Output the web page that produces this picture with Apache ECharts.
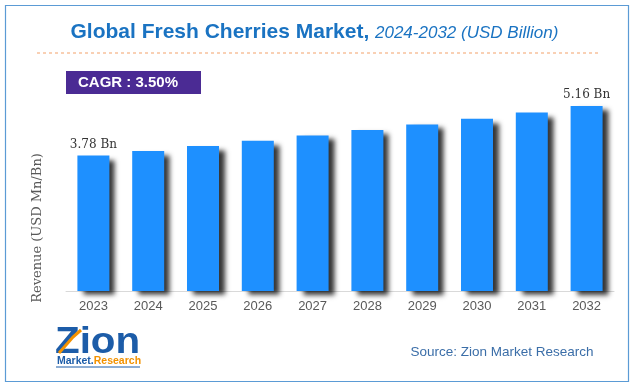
<!DOCTYPE html>
<html>
<head>
<meta charset="utf-8">
<script src="https://cdn.jsdelivr.net/npm/echarts@6/dist/echarts.min.js"></script>
<style>
html,body{margin:0;padding:0;background:#fff;}
#c{width:633px;height:387px;}
</style>
</head>
<body>
<div id="c"></div>
<script>
const years = ['2023','2024','2025','2026','2027','2028','2029','2030','2031','2032'];
const revenue = [3.78, 3.91, 4.05, 4.19, 4.34, 4.49, 4.65, 4.81, 4.98, 5.16];
const labelledIdx = [0, 9];
const titleMain = 'Global Fresh Cherries Market,';
const titleSub = '2024-2032 (USD Billion)';
const cagrText = 'CAGR : 3.50%';
const yName = 'Revenue (USD Mn/Bn)';
const sourceText = 'Source: Zion Market Research';

const chart = echarts.init(document.getElementById('c'), null, {renderer:'canvas'});

const barData = revenue.map((v, i) => ({
  value: v,
  label: { show: labelledIdx.includes(i) }
}));

chart.setOption({
  animation: false,
  backgroundColor: '#ffffff',
  grid: { left: 66, right: 19, top: 76, bottom: 96 },
  xAxis: {
    type: 'category',
    data: years,
    axisLine: { lineStyle: { color: '#d9d9d9', width: 1 } },
    axisTick: { show: false },
    axisLabel: { color: '#595959', fontSize: 13, fontFamily: 'Liberation Sans', margin: 9 }
  },
  yAxis: {
    type: 'value', min: 0, max: 6, interval: 1,
    show: false,
    splitLine: { show: false }
  },
  series: [{
    type: 'bar',
    data: barData,
    barWidth: 32,
    itemStyle: {
      color: '#1e90ff',
      shadowColor: 'rgba(0,0,0,0.8)',
      shadowBlur: 5,
      shadowOffsetX: 6,
      shadowOffsetY: 4
    },
    label: {
      position: 'top',
      distance: 5,
      color: '#333333',
      fontSize: 12,
      fontFamily: 'DejaVu Serif',
      formatter: p => p.value.toFixed(2) + ' Bn'
    }
  }],
  graphic: [
    { type: 'rect', shape: { x: 5.5, y: 5.5, width: 623, height: 376 },
      style: { fill: null, stroke: '#5b9bd5', lineWidth: 1.2 }, z: 10 },
    { type: 'text', x: 70.5, y: 32.5,
      style: { text: titleMain, fill: '#1a73c2', font: 'bold 21px "Liberation Sans"', textVerticalAlign: 'middle', textAlign: 'left' } },
    { type: 'text', x: 375, y: 33.5,
      style: { text: titleSub, fill: '#1a73c2', font: 'italic 17px "Liberation Sans"', textVerticalAlign: 'middle', textAlign: 'left' } },
    { type: 'line', shape: { x1: 37, y1: 53, x2: 600, y2: 53 },
      style: { stroke: '#f4a26a', lineWidth: 1, lineDash: [3, 3] } },
    { type: 'rect', shape: { x: 66, y: 71, width: 135, height: 23 },
      style: { fill: '#4b2b94' } },
    { type: 'text', x: 78, y: 82.5,
      style: { text: cagrText, fill: '#ffffff', font: 'bold 15px "Liberation Sans"', textVerticalAlign: 'middle', textAlign: 'left' } },
    { type: 'text', x: 38, y: 228, rotation: Math.PI / 2,
      style: { text: yName, fill: '#595959', font: '13px "DejaVu Serif"', textVerticalAlign: 'middle', textAlign: 'center' } },
    { type: 'text', x: 55, y: 343, scaleX: 1.12,
      style: { text: 'Zion', fill: '#1c5ca8', font: 'bold 36px "Liberation Sans"', textVerticalAlign: 'middle', textAlign: 'left' } },
    { type: 'polyline', shape: { points: [[59, 353], [73, 337], [81, 330]] },
      style: { stroke: '#f39200', lineWidth: 3, fill: null } },
    { type: 'text', x: 57, y: 361.5,
      style: { text: '{a|Market.}{b|Research}', font: 'bold 10.5px "Liberation Sans"', textVerticalAlign: 'middle', textAlign: 'left',
        rich: { a: { fill: '#1c5ca8', font: 'bold 10.5px "Liberation Sans"' }, b: { fill: '#f39200', font: 'bold 10.5px "Liberation Sans"' } } } },
    { type: 'line', shape: { x1: 56, y1: 367, x2: 140, y2: 367 },
      style: { stroke: '#1c5ca8', lineWidth: 1 } },
    { type: 'text', x: 410.5, y: 352,
      style: { text: sourceText, fill: '#3b6ea8', font: '13.5px "Liberation Sans"', textVerticalAlign: 'middle', textAlign: 'left' } }
  ]
});
</script>
</body>
</html>
